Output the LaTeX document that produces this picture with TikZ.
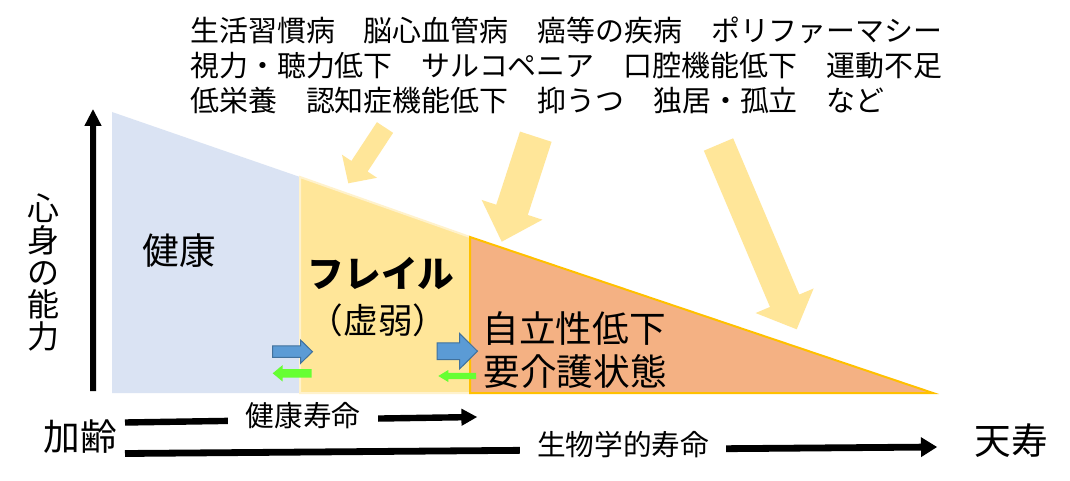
\documentclass[tikz,border=0pt]{standalone}
\usepackage{fontspec}
\setmainfont{Noto Sans CJK JP}
\definecolor{blueR}{HTML}{DAE3F3}
\definecolor{yellowR}{HTML}{FFE699}
\definecolor{yellowB}{HTML}{FFF2CC}
\definecolor{orangeR}{HTML}{F4B183}
\definecolor{orangeB}{HTML}{FFC000}
\definecolor{fatY}{HTML}{FFE699}
\definecolor{blueA}{HTML}{5B9BD5}
\definecolor{blueAB}{HTML}{41719C}
\definecolor{greenA}{HTML}{66FF33}
% fat arrow: style, tail x, tail y, tip x, tip y, shaft half width, head half width, head length (px)
\newcommand\fatarrow[8]{%
  \pgfmathsetmacro\faDx{#4-#2}\pgfmathsetmacro\faDy{#5-#3}%
  \pgfmathsetmacro\faL{20*sqrt((\faDx/20)*(\faDx/20)+(\faDy/20)*(\faDy/20))}%
  \pgfmathsetmacro\faUx{\faDx/\faL}\pgfmathsetmacro\faUy{\faDy/\faL}%
  \pgfmathsetmacro\faBx{#4-#8*\faUx}\pgfmathsetmacro\faBy{#5-#8*\faUy}%
  \path[#1] ({#2-#6*\faUy},{#3+#6*\faUx}) -- ({\faBx-#6*\faUy},{\faBy+#6*\faUx})
    -- ({\faBx-#7*\faUy},{\faBy+#7*\faUx}) -- (#4,#5)
    -- ({\faBx+#7*\faUy},{\faBy-#7*\faUx}) -- ({\faBx+#6*\faUy},{\faBy-#6*\faUx})
    -- ({#2+#6*\faUy},{#3-#6*\faUx}) -- cycle;}
\begin{document}
\begin{tikzpicture}[x=0.75pt,y=-0.75pt,
  toptext/.style={anchor=west,inner sep=0pt,font=\fontsize{21.7}{26}\selectfont},
  biglabel/.style={inner sep=0pt,font=\fontsize{27.5}{33}\selectfont},
  linelabel/.style={fill=white,inner xsep=13pt,inner ysep=2pt,font=\fontsize{21.5}{26}\selectfont},
  bigarrow/.style={fill=fatY},
  blackarrow/.style={fill=black},
  bluearrow/.style={fill=blueA,draw=blueAB,line width=0.75pt},
  greenarrow/.style={fill=greenA}]
\useasboundingbox (0,0) rectangle (1070,481);
\fill[white] (0,0) rectangle (1070,481);
% regions
\fill[blueR] (112,112) -- (300,177) -- (300,393) -- (112,393) -- cycle;
\filldraw[fill=yellowR,draw=yellowB,line width=1.5pt] (300,177) -- (470,237) -- (470,393) -- (300,393) -- cycle;
\filldraw[fill=orangeR,draw=orangeB,line width=1.5pt] (470,237) -- (933,393) -- (470,393) -- cycle;
% big yellow arrows
\fatarrow{bigarrow}{385}{127.5}{348.3}{183.3}{9.7}{21}{20.4}
\fatarrow{bigarrow}{535.8}{136.7}{501.7}{241.7}{16.6}{31.9}{33.5}
\fatarrow{bigarrow}{718.5}{144.5}{796.7}{329.3}{15.9}{31.5}{31}
% small arrows
\fatarrow{bluearrow}{272.5}{351.7}{312.5}{351.7}{5.75}{11.7}{12}
\fatarrow{greenarrow}{311.7}{373.3}{272.7}{373.3}{4.2}{8.3}{10}
\fatarrow{bluearrow}{437}{351.2}{477.5}{351.2}{8.3}{17.8}{18}
\fatarrow{greenarrow}{476}{376}{438.3}{376}{3.2}{6}{10}
% vertical axis
\fatarrow{blackarrow}{93}{391}{93}{109.3}{3}{8.7}{16.7}
% bottom arrows
\fatarrow{blackarrow}{125}{422.5}{477}{417}{3.2}{8.7}{15.6}
\fatarrow{blackarrow}{125}{453.5}{937}{447}{3.4}{10}{16}
% top texts
\node[toptext] (t1) at (190,30) {生活習慣病　脳心血管病　癌等の疾病　ポリファーマシー};
\node[toptext] (t2) at (190,66) {視力・聴力低下　サルコペニア　口腔機能低下　運動不足};
\node[toptext] (t3) at (190,101) {低栄養　認知症機能低下　抑うつ　独居・孤立　など};
% vertical label
\node[inner sep=0pt,align=center,font=\fontsize{24}{24}\selectfont] (ability) at (43,272) {心\\身\\の\\能\\力};
% region labels
\node[biglabel] (kenko) at (179,251) {健康};
\node[biglabel,font=\fontsize{27.5}{33}\selectfont\bfseries] (frail) at (381,273) {フレイル};
\node[biglabel,font=\fontsize{26}{31}\selectfont] (kyojaku) at (378,320) {（虚弱）};
\node[biglabel] (jiritsu) at (574,329) {自立性低下};
\node[biglabel] (kaigo) at (575,372) {要介護状態};
% bottom labels
\node[biglabel] (karei) at (80,437) {加齢};
\node[biglabel] (tenju) at (1011,441) {天寿};
\node[linelabel] (kenkojumyo) at (303,416) {健康寿命};
\node[linelabel] (seibutsu) at (623,445) {生物学的寿命};
\end{tikzpicture}
\end{document}
